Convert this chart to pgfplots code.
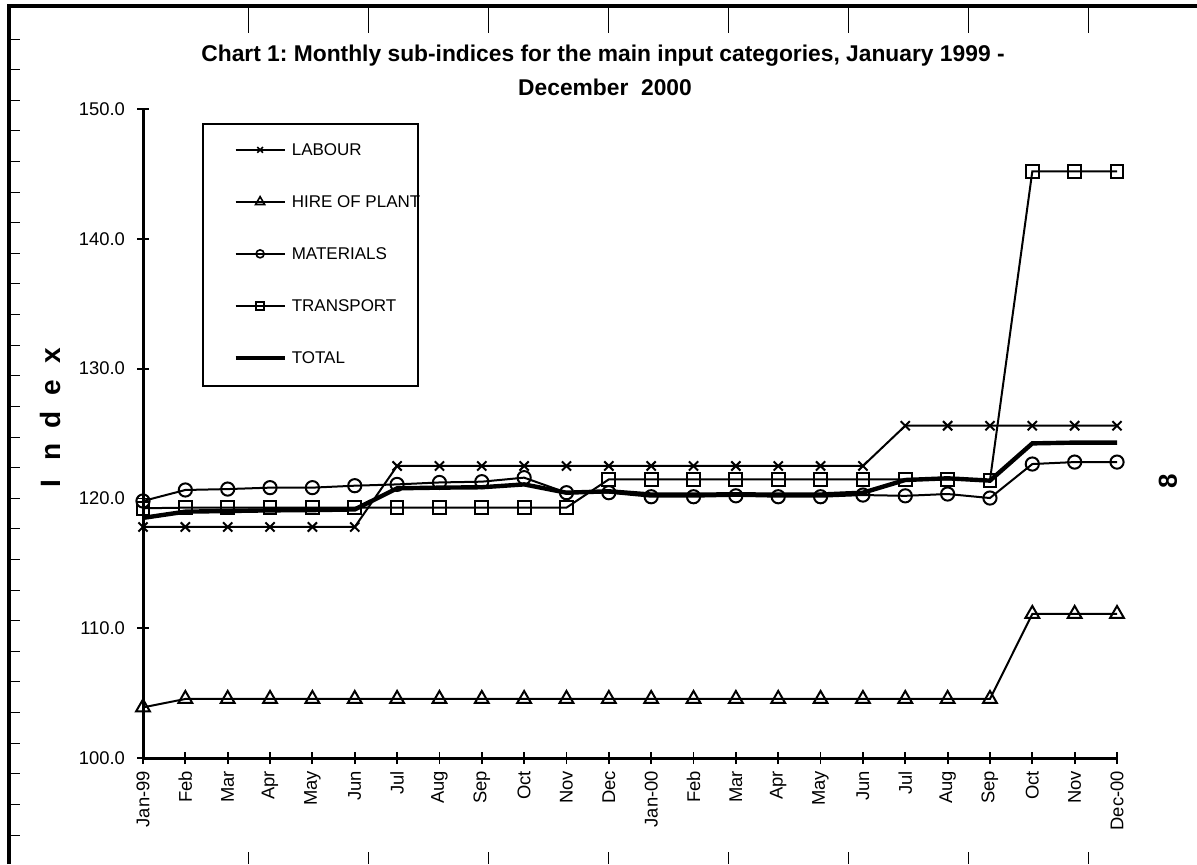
\documentclass[border=0pt]{standalone}
\usepackage{fontspec}
\setmainfont{Liberation Sans}
\usepackage{pgfplots}
\usepackage{pgfplotstable}
\pgfplotsset{compat=1.18}

% idx 0 = Jan-99 ... 23 = Dec-00
\pgfplotstableread{
idx labour hire   materials transport total
0   117.8  103.9  119.80    119.24    118.50
1   117.8  104.55 120.65    119.29    118.98
2   117.8  104.55 120.72    119.29    119.03
3   117.8  104.55 120.83    119.29    119.08
4   117.8  104.55 120.83    119.29    119.10
5   117.8  104.55 120.98    119.29    119.15
6   122.5  104.55 121.08    119.29    120.78
7   122.5  104.55 121.23    119.29    120.83
8   122.5  104.55 121.29    119.29    120.86
9   122.5  104.55 121.60    119.29    121.08
10  122.5  104.55 120.44    119.29    120.44
11  122.5  104.55 120.44    121.47    120.55
12  122.5  104.55 120.13    121.47    120.30
13  122.5  104.55 120.13    121.47    120.29
14  122.5  104.55 120.20    121.47    120.32
15  122.5  104.55 120.13    121.47    120.29
16  122.5  104.55 120.13    121.47    120.30
17  122.5  104.55 120.26    121.47    120.44
18  125.6  104.55 120.20    121.47    121.42
19  125.6  104.55 120.34    121.47    121.55
20  125.6  104.55 120.03    121.40    121.37
21  125.6  111.1  122.65    145.2     124.24
22  125.6  111.1  122.80    145.2     124.30
23  125.6  111.1  122.80    145.2     124.30
}\data

\begin{document}
\frenchspacing
\begin{tikzpicture}
\begin{axis}[
  at={(71.5pt,-379pt)}, anchor=south west,
  scale only axis, width=487pt, height=324.5pt,
  xmin=0, xmax=23, ymin=100, ymax=150,
  axis x line*=bottom, axis y line*=left,
  axis line style={line width=1.5pt, -},
  clip=false,
  xtick={0,...,23},
  xticklabels={Jan-99,Feb,Mar,Apr,May,Jun,Jul,Aug,Sep,Oct,Nov,Dec,Jan-00,Feb,Mar,Apr,May,Jun,Jul,Aug,Sep,Oct,Nov,Dec-00},
  ytick={100,110,...,150},
  tick align=center, major tick length=6pt,
  tick style={black, line width=0.9pt},
  tick label style={font=\fontsize{9.2}{11}\selectfont},
  x tick label style={rotate=90, anchor=east},
  yticklabel style={xshift=-2.5pt, /pgf/number format/.cd, fixed, fixed zerofill, precision=1, 1000 sep={}, assume math mode=true},
  legend cell align=left,
  legend style={draw=none, fill=none, at={(axis description cs:0.0924,0.9471)}, anchor=north west,
    inner sep=0pt, row sep=19.9pt, column sep=2.5pt, font=\fontsize{8.5}{10}\selectfont,
    nodes={inner sep=0pt, text height=6.1pt, text depth=0pt}},
  legend image code/.code={\draw[mark repeat=2,mark phase=2,#1] plot coordinates {(0pt,0pt) (12.25pt,0pt) (24.5pt,0pt)};},
]
\addplot[black, line width=1pt, mark=x, mark size=3.25pt, legend image post style={mark size=2pt, line width=0.8pt}] table[x=idx, y=labour]{\data};
\addplot[black, line width=1pt, mark=triangle, mark size=4pt, legend image post style={mark size=2.6pt, line width=0.8pt}] table[x=idx, y=hire]{\data};
\addplot[black, line width=1pt, mark=o, mark size=3.3pt, legend image post style={mark size=2pt, line width=0.8pt}] table[x=idx, y=materials]{\data};
\addplot[black, line width=1pt, mark=square, mark size=3.2pt, legend image post style={mark size=2pt, line width=0.8pt}] table[x=idx, y=transport]{\data};
\addplot[black, line width=2.2pt, no marks] table[x=idx, y=total]{\data};
\legend{LABOUR, HIRE OF PLANT, MATERIALS, TRANSPORT, TOTAL}
\end{axis}

\begin{scope}[x=0.5pt, y=-0.5pt]
  % page frame with ruler ticks
  \draw[line width=1.75pt] (9,864) -- (9,6) -- (1197,6);
  \foreach \k in {0,...,26} \draw[line width=0.5pt] (9,{39+30.615*\k}) -- (20,{39+30.615*\k});
  \foreach \k in {0,...,7} {
    \draw[line width=0.5pt] ({248+120.1*\k},6) -- ({248+120.1*\k},33);
    \draw[line width=0.5pt] ({248+120.1*\k},852) -- ({248+120.1*\k},864);
  }
  % legend box
  \draw[line width=0.75pt] (203,124) rectangle (418,386);
  % title
  \node[anchor=base, font=\bfseries\fontsize{11.4}{13}\selectfont] at (603,61)
    {Chart 1: Monthly sub-indices for the main input categories, January 1999 -};
  \node[anchor=base, font=\bfseries\fontsize{11.4}{13}\selectfont] at (605,95)
    {December\ \ 2000};
  % y label
  \node[rotate=90, font=\bfseries\fontsize{14}{16}\selectfont] at (50,420)
    {\makebox[16pt]{I}\makebox[16pt]{n}\makebox[16pt]{d}\makebox[16pt]{e}\makebox[16pt]{x}};
  \node[rotate=90, font=\bfseries\fontsize{13}{15}\selectfont] at (1168,481) {8};
  \pgfresetboundingbox
  \path[use as bounding box] (0,0) rectangle (1197,864);
\end{scope}
\end{tikzpicture}
\end{document}
